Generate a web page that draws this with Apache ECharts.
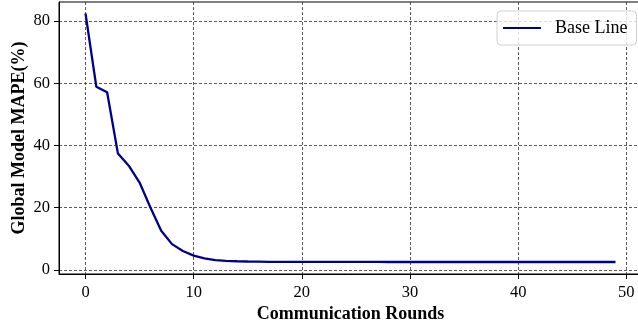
<!DOCTYPE html>
<html>
<head>
<meta charset="utf-8">
<script src="https://cdn.jsdelivr.net/npm/echarts@6/dist/echarts.min.js"></script>
<style>
html,body{margin:0;padding:0;background:#fff;}
#chart{width:638px;height:329px;}
</style>
</head>
<body>
<div id="chart"></div>
<script>
var rounds = [];
for (var i = 0; i < 50; i++) rounds.push(i);
var mape = [82.4, 58.9, 57.1, 37.4, 33.5, 28.1, 20.1, 12.6, 8.3, 6.1,
            4.6, 3.7, 3.2, 2.95, 2.8, 2.72, 2.67, 2.63, 2.61, 2.6,
            2.6, 2.6, 2.59, 2.59, 2.58, 2.58, 2.6, 2.58, 2.57, 2.57,
            2.57, 2.57, 2.57, 2.57, 2.57, 2.57, 2.57, 2.57, 2.57, 2.57,
            2.57, 2.57, 2.57, 2.57, 2.57, 2.57, 2.57, 2.57, 2.57, 2.57];
var xTicks = [0, 10, 20, 30, 40, 50];
var yTicks = [0, 20, 40, 60, 80];
var seriesName = 'Base Line';
var xName = 'Communication Rounds';
var yName = 'Global Model MAPE(%)';

var font = 'Liberation Serif, Times New Roman, serif';
var chart = echarts.init(document.getElementById('chart'), null, {renderer: 'canvas'});
var pts = rounds.map(function (r, i) { return [r, mape[i]]; });

chart.setOption({
  animation: false,
  backgroundColor: '#fff',
  grid: {left: 59, top: 2, width: 583, height: 272, show: true, borderColor: '#000', borderWidth: 1,
         containLabel: false, outerBoundsMode: 'none'},
  legend: {
    left: 497, top: 11,
    padding: [8, 9, 8, 6],
    itemWidth: 38, itemHeight: 2, itemGap: 10,
    icon: 'rect',
    backgroundColor: 'rgba(255,255,255,0.8)',
    borderColor: '#d0d0d0', borderWidth: 1, borderRadius: 4,
    textStyle: {fontFamily: font, fontSize: 18, color: '#000', padding: [0, 0, 0, 9]},
    data: [seriesName]
  },
  xAxis: {
    type: 'value', min: -2.45, max: 51.45,
    name: xName, nameLocation: 'middle', nameGap: 31, nameMoveOverlap: false,
    nameTextStyle: {fontFamily: font, fontSize: 18, fontWeight: 'bold', color: '#000'},
    axisLine: {show: true, onZero: false, lineStyle: {color: '#000', width: 1}},
    axisTick: {show: true, inside: false, length: 5, lineStyle: {color: '#000'}, customValues: xTicks},
    axisLabel: {fontFamily: font, fontSize: 16.5, color: '#000', margin: 10, customValues: xTicks},
    splitLine: {show: true, lineStyle: {color: '#333', type: [3, 2], width: 0.8}}
  },
  yAxis: {
    type: 'value', min: -1.29, max: 86.1,
    name: yName, nameLocation: 'middle', nameGap: 30.5, nameMoveOverlap: false,
    nameTextStyle: {fontFamily: font, fontSize: 18, fontWeight: 'bold', color: '#000'},
    axisLine: {show: true, onZero: false, lineStyle: {color: '#000', width: 1}},
    axisTick: {show: true, inside: false, length: 5, lineStyle: {color: '#000'}, customValues: yTicks},
    axisLabel: {fontFamily: font, fontSize: 16.5, color: '#000', margin: 9, customValues: yTicks},
    splitLine: {show: true, lineStyle: {color: '#333', type: [3, 2], width: 0.8}}
  },
  series: [{
    name: seriesName, type: 'line', data: pts,
    showSymbol: false, symbol: 'none',
    lineStyle: {color: '#00008B', width: 2.3},
    itemStyle: {color: '#00008B'}
  }]
});
</script>
</body>
</html>
